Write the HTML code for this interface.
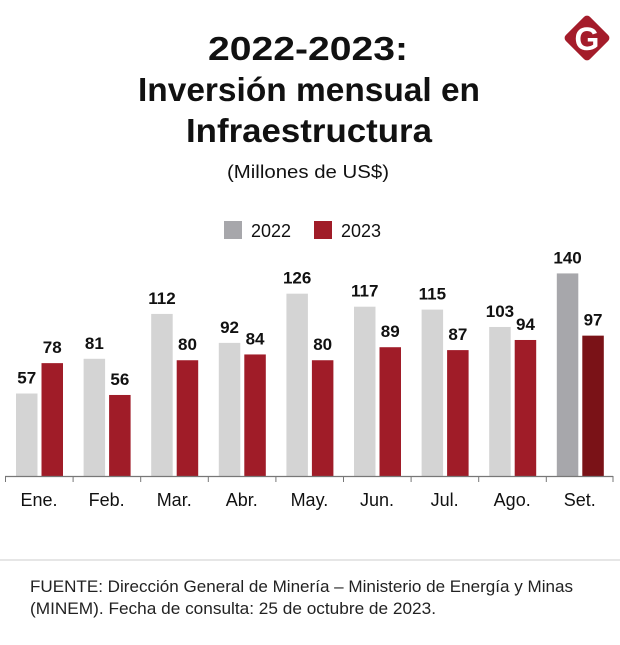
<!DOCTYPE html>
<html><head><meta charset="utf-8"><style>
html,body{margin:0;padding:0;background:#fff;}
svg{display:block;font-family:"Liberation Sans",sans-serif;}
</style></head><body>
<svg width="620" height="645" viewBox="0 0 620 645" xmlns="http://www.w3.org/2000/svg">
<rect width="620" height="645" fill="#fff"/>
<g font-weight="bold" fill="#111" text-anchor="middle">
<text x="308" y="60" font-size="33" textLength="200" lengthAdjust="spacingAndGlyphs">2022-2023:</text>
<text x="309" y="101" font-size="33" textLength="342" lengthAdjust="spacingAndGlyphs">Inversión mensual en</text>
<text x="309" y="142" font-size="33" textLength="246" lengthAdjust="spacingAndGlyphs">Infraestructura</text>
</g>
<text x="308" y="178" font-size="18" text-anchor="middle" fill="#111" textLength="162" lengthAdjust="spacingAndGlyphs">(Millones de US$)</text>
<g transform="translate(587,38) rotate(45)"><rect x="-17" y="-17" width="34" height="34" rx="4" fill="#a41c2a"/></g>
<text x="587" y="50" font-size="32" font-weight="bold" fill="#fff" text-anchor="middle">G</text>
<rect x="224" y="221" width="18" height="18" fill="#a7a7ab"/>
<text x="251" y="237" font-size="18" fill="#111">2022</text>
<rect x="314" y="221" width="18" height="18" fill="#a01c28"/>
<text x="341" y="237" font-size="18" fill="#111">2023</text>
<g id="bars"></g>
<line x1="5" y1="476.5" x2="613" y2="476.5" stroke="#777" stroke-width="1.2"/>
<g id="ticks" stroke="#777" stroke-width="1"></g>
<g id="months" font-size="18" fill="#111" text-anchor="middle"></g>
<line x1="0" y1="560" x2="620" y2="560" stroke="#ddd" stroke-width="1.5"/>
<text x="30" y="592" font-size="16.5" fill="#222" textLength="543" lengthAdjust="spacingAndGlyphs">FUENTE: Dirección General de Minería – Ministerio de Energía y Minas</text>
<text x="30" y="614" font-size="16.5" fill="#222" textLength="406" lengthAdjust="spacingAndGlyphs">(MINEM). Fecha de consulta: 25 de octubre de 2023.</text>
</svg>
<script>
var a=[57,81,112,92,126,117,115,103,140],b=[78,56,80,84,80,89,87,94,97];
var m=["Ene.","Feb.","Mar.","Abr.","May.","Jun.","Jul.","Ago.","Set."];
var ns="http://www.w3.org/2000/svg",B=document.getElementById("bars"),T=document.getElementById("ticks"),M=document.getElementById("months");
function el(p,t,at,tx){var e=document.createElementNS(ns,t);for(var k in at)e.setAttribute(k,at[k]);if(tx)e.textContent=tx;p.appendChild(e);}
var base=476,s=1.447,w=21.5;
for(var i=0;i<9;i++){
 var x1=16+67.6*i,x2=x1+25.5;
 var h1=a[i]*s,h2=b[i]*s;
 el(B,"rect",{x:x1,y:base-h1,width:w,height:h1,fill:i==8?"#a7a7ab":"#d4d4d4"});
 el(B,"rect",{x:x2,y:base-h2,width:w,height:h2,fill:i==8?"#7a1217":"#a01c28"});
 el(B,"text",{x:x1+w/2,y:base-h1-10,"font-size":17,"font-weight":"bold","text-anchor":"middle",fill:"#111"},a[i]);
 el(B,"text",{x:x2+w/2,y:base-h2-10,"font-size":17,"font-weight":"bold","text-anchor":"middle",fill:"#111"},b[i]);
 el(M,"text",{x:x1+23,y:506},m[i]);
 el(T,"line",{x1:5.5+67.6*i,y1:476,x2:5.5+67.6*i,y2:482});
}
el(T,"line",{x1:613,y1:476,x2:613,y2:482});
</script>
</body></html>
